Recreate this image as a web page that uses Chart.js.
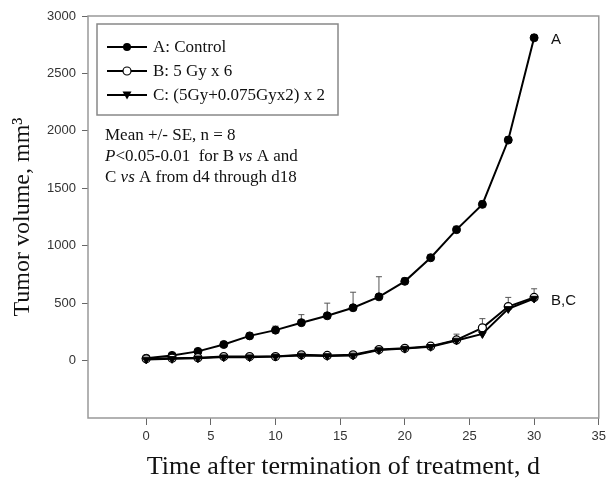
<!DOCTYPE html>
<html><head><meta charset="utf-8">
<script src="https://cdn.jsdelivr.net/npm/chart.js@4.4.0/dist/chart.umd.min.js"></script>
<style>html,body{margin:0;padding:0;background:#fff;}#wrap{width:610px;height:486px;position:relative;}</style>
</head><body><div id="wrap"><canvas id="c" width="610" height="486"></canvas></div>
<script>
const days = [0,2,4,6,8,10,12,14,16,18,20,22,24,26,28,30];
const controlMean = [20,45,80,140,215,265,330,390,460,555,690,895,1140,1360,1920,2810];
const controlErr  = [8,10,15,20,25,35,70,110,135,175,30,30,30,30,30,30];
const bMean = [15,20,25,35,35,35,50,45,50,96,107,125,180,285,470,550];
const bErr  = [5,5,8,8,8,10,10,10,10,15,20,25,50,80,80,75];
const cMean = [10,15,20,30,30,35,45,40,45,92,104,120,175,232,450,540];
const cErr  = [5,5,5,5,5,5,8,8,8,10,10,15,20,25,30,30];
const xTicks = [0,5,10,15,20,25,30,35];
const yTicks = [0,500,1000,1500,2000,2500,3000];
const seriesNames = ['A: Control','B: 5 Gy x 6','C: (5Gy+0.075Gyx2) x 2'];

const pts = (m) => days.map((d,i)=>({x:d,y:m[i]}));
const errs = [controlErr,bErr,cErr];
const SERIF='"Liberation Serif", "Times New Roman", serif';
const SANS='"Liberation Sans", Arial, sans-serif';

const errorBars = {
  id:'errorBars',
  beforeDatasetsDraw(chart){
    const ctx=chart.ctx, xs=chart.scales.x, ys=chart.scales.y;
    ctx.save(); ctx.strokeStyle='#555'; ctx.lineWidth=1;
    chart.data.datasets.forEach((ds,di)=>{
      ds.data.forEach((p,i)=>{
        const e=errs[di][i]; const px=xs.getPixelForValue(p.x);
        const y0=ys.getPixelForValue(p.y), y1=ys.getPixelForValue(p.y+e);
        ctx.beginPath(); ctx.moveTo(px,y0); ctx.lineTo(px,y1);
        ctx.moveTo(px-3,y1); ctx.lineTo(px+3,y1); ctx.stroke();
      });
    });
    ctx.restore();
  }
};

const frame = {
  id:'frame',
  afterDraw(chart){
    const ctx=chart.ctx, a=chart.chartArea;
    ctx.save();
    ctx.strokeStyle='#999'; ctx.lineWidth=1.5;
    ctx.strokeRect(a.left,a.top,a.right-a.left,a.bottom-a.top);
    // legend box
    ctx.strokeStyle='#888'; ctx.lineWidth=1.5;
    ctx.strokeRect(97,24,241,91);
    const rows=[47,71,95];
    ctx.textBaseline='middle';
    rows.forEach((y,i)=>{
      ctx.strokeStyle='#000'; ctx.lineWidth=2;
      ctx.beginPath(); ctx.moveTo(107,y); ctx.lineTo(147,y); ctx.stroke();
      ctx.lineWidth=1.2;
      if(i===0){ctx.beginPath();ctx.arc(127,y,4,0,Math.PI*2);ctx.fillStyle='#000';ctx.fill();}
      else if(i===1){ctx.beginPath();ctx.arc(127,y,4,0,Math.PI*2);ctx.fillStyle='#fff';ctx.fill();ctx.stroke();}
      else {ctx.beginPath();ctx.moveTo(122.5,y-3.5);ctx.lineTo(131.5,y-3.5);ctx.lineTo(127,y+4.5);ctx.closePath();ctx.fillStyle='#000';ctx.fill();}
      ctx.fillStyle='#111';
      ctx.font='17px '+SERIF;
      ctx.fillText(seriesNames[i],153,y+1);
    });
    // annotation
    const norm='17px '+SERIF;
    const ital='italic 17px '+SERIF;
    const lines=[
      [[norm,'Mean +/- SE, n = 8']],
      [[ital,'P'],[norm,'<0.05-0.01  for B '],[ital,'vs'],[norm,' A and']],
      [[norm,'C '],[ital,'vs'],[norm,' A from d4 through d18']]
    ];
    const ys=[136,157,178];
    lines.forEach((segs,li)=>{
      let x=105;
      segs.forEach(([f,t])=>{ctx.font=f; ctx.fillText(t,x,ys[li]); x+=ctx.measureText(t).width;});
    });
    // end labels
    ctx.font='15px '+SANS;
    ctx.fillStyle='#111';
    const xs=chart.scales.x, yS=chart.scales.y;
    const n=days.length-1;
    ctx.fillText('A', xs.getPixelForValue(days[n])+17, yS.getPixelForValue(controlMean[n])+2);
    ctx.fillText('B,C', xs.getPixelForValue(days[n])+17, yS.getPixelForValue(bMean[n])+3);
    ctx.restore();
  }
};

new Chart(document.getElementById('c'),{
  type:'line',
  data:{datasets:[
    {label:seriesNames[0],order:2,data:pts(controlMean),borderColor:'#000',borderWidth:2,pointStyle:'circle',pointRadius:4,pointBackgroundColor:'#000',pointBorderColor:'#000',pointBorderWidth:1},
    {label:seriesNames[1],order:1,data:pts(bMean),borderColor:'#000',borderWidth:2,pointStyle:'circle',pointRadius:4,pointBackgroundColor:'#fff',pointBorderColor:'#000',pointBorderWidth:1.2},
    {label:seriesNames[2],order:0,data:pts(cMean),borderColor:'#000',borderWidth:2,pointStyle:'triangle',rotation:180,pointRadius:4.5,pointBackgroundColor:'#000',pointBorderColor:'#000',pointBorderWidth:1}
  ]},
  options:{
    responsive:false,animation:false,
    layout:{padding:{top:16,right:9,left:0,bottom:0}},
    plugins:{legend:{display:false},tooltip:{enabled:false}},
    scales:{
      x:{type:'linear',min:-4.5,max:35,
        afterBuildTicks(s){s.ticks=xTicks.map(v=>({value:v}));},
        afterFit(s){s.height=68;},
        border:{display:false},
        grid:{drawOnChartArea:false,drawTicks:true,tickLength:7,color:'#666',lineWidth:1},
        ticks:{color:'#333',font:{family:SANS,size:13},padding:4,maxRotation:0,callback:v=>String(v)},
        title:{display:true,text:'Time after termination of treatment, d',color:'#111',font:{family:SERIF,size:26},padding:{top:0,bottom:3}}
      },
      y:{type:'linear',min:-500,max:3000,
        afterBuildTicks(s){s.ticks=yTicks.map(v=>({value:v}));},
        afterFit(s){s.width=88;},
        border:{display:false},
        grid:{drawOnChartArea:false,drawTicks:true,tickLength:6,color:'#666',lineWidth:1},
        ticks:{color:'#333',font:{family:SANS,size:13},padding:6,callback:v=>String(v)},
        title:{display:true,text:'Tumor volume, mm\u00B3',color:'#111',font:{family:SERIF,size:24},padding:{top:8,bottom:0}}
      }
    }
  },
  plugins:[errorBars,frame]
});
</script></body></html>
